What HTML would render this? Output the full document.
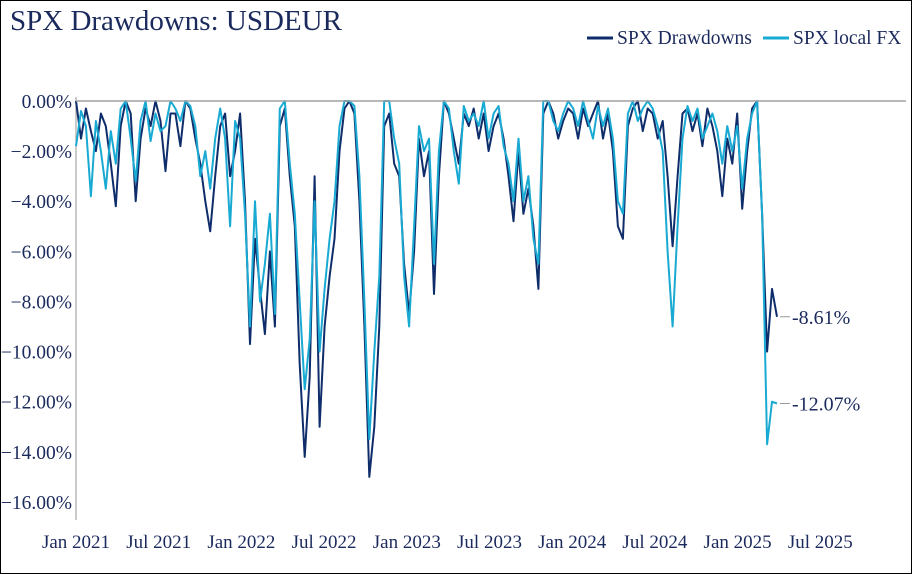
<!DOCTYPE html>
<html><head><meta charset="utf-8"><style>
html,body{margin:0;padding:0;background:#fff}
#wrap{position:relative;width:910px;height:572px;border:1px solid #000;background:#fff;overflow:hidden}
svg text{font-family:"Liberation Serif",serif;fill:#1b2a5c}
</style></head><body>
<div id="wrap">
<svg id="chart" width="910" height="572">
<text x="9" y="29" font-size="29">SPX Drawdowns: USDEUR</text>
<g>
<line x1="586" y1="37" x2="612" y2="37" stroke="#0f2d6b" stroke-width="3"/>
<text x="616" y="43" font-size="19.5">SPX Drawdowns</text>
<line x1="762" y1="37" x2="788" y2="37" stroke="#19aad3" stroke-width="3"/>
<text x="792" y="43" font-size="19.5">SPX local FX</text>
</g>
<g id="yaxis"></g>
<g id="xaxis"></g>
<g id="series"></g>
<g id="ann"></g>
</svg>
</div>
<script>
const yTicks=[0,-2,-4,-6,-8,-10,-12,-14,-16];
const xTickLabels=["Jan 2021","Jul 2021","Jan 2022","Jul 2022","Jan 2023","Jul 2023","Jan 2024","Jul 2024","Jan 2025","Jul 2025"];
const drawdowns=[0,-1.5,-0.3,-1.2,-2,-0.5,-1,-2.5,-4.2,-1,
0,-0.5,-4,-1.5,-0.3,-1,0,-0.8,-2.8,-0.5,
-0.5,-1.8,0,-0.3,-1.5,-2.5,-4,-5.2,-3,-1,
-0.5,-3,-2,-0.5,-4,-9.7,-5.5,-7.5,-9.3,-6,
-9,-1,-0.3,-3,-5,-10.5,-14.2,-11,-3,-13,
-9,-7,-5.5,-2,-0.3,0,-0.5,-4,-9,-15,
-13,-9,-1,-0.5,-2.5,-3,-6.5,-8.5,-6,-1.5,
-3,-2,-7.7,-3,0,-0.5,-1.5,-2.5,-0.5,-1,
-0.3,-1.5,-0.5,-2,-1,-0.5,-1.5,-3,-4.8,-2,
-4.5,-3.5,-5,-7.5,-0.5,0,-0.5,-1.5,-0.8,-0.3,
-0.5,-1.5,-0.3,-1,-0.5,0,-1.5,-0.5,-2,-5,
-5.5,-1,-0.3,0,-1.2,-0.3,-0.5,-1.5,-0.8,-3,
-5.8,-3,-0.5,-0.3,-1.2,-0.5,-1.8,-0.3,-1,-2,
-3.8,-1.5,-2.5,-0.5,-4.3,-2,-0.3,0,-4.5,-10,
-7.5,-8.61];
const localFx=[-1.8,-0.4,-1,-3.8,-0.8,-2,-3.5,-1.2,-2.5,-0.3,
0,-1.5,-3.2,-0.8,0,-1.6,-0.5,-1.2,-1,0,
-0.3,-0.8,0,-0.2,-1,-3,-2,-3.5,-1.5,-0.3,
-1.5,-5,-0.8,-1.5,-4.5,-9,-4,-8,-6.5,-4.5,
-8.5,-0.3,0,-2.5,-4.5,-8,-11.5,-9.5,-4,-10,
-7.5,-5.5,-4,-1,0,0,-0.2,-3,-8,-13.5,
-10,-7,0,0,-1.5,-2.5,-7,-9,-5,-1,
-2,-1.5,-6.5,-2,0,-0.3,-2,-3.3,-0.2,-0.8,
-0.5,-1,0,-1.5,-0.5,-0.2,-1.8,-2.5,-4,-1.5,
-4,-3,-5.5,-6.5,0,0,-0.8,-1.2,-0.5,0,
-0.3,-1,0,-0.8,-1.5,-0.2,-1,-0.3,-1.5,-4,
-4.5,-0.5,0,-0.8,-0.3,0,-0.3,-1,-2,-6,
-9,-5,-1.5,-0.2,-0.8,-0.3,-1.5,-1,-0.5,-1.2,
-2.5,-1,-2,-1,-3.5,-1.5,-0.5,0,-4.5,-13.7,
-12,-12.07];
const NS="http://www.w3.org/2000/svg";
const X0=75,XSTEP=(776-75)/(drawdowns.length-1);
const xIdx=i=>X0+i*XSTEP;
const y=v=>100-v*25.06;
const xTick=k=>75+k*82.7;
function mk(tag,attrs,parent){const e=document.createElementNS(NS,tag);for(const k in attrs)e.setAttribute(k,attrs[k]);parent.appendChild(e);return e;}
const ya=document.getElementById('yaxis'),xa=document.getElementById('xaxis'),sg=document.getElementById('series'),an=document.getElementById('ann');
let l=mk('line',{x1:75,y1:96,x2:75,y2:519,stroke:'#a6a6a6','stroke-width':1.2},ya);


yTicks.forEach(v=>{const t=mk('text',{x:71,y:y(v)+7,'font-size':19.5,'text-anchor':'end'},ya);t.textContent=(v<0?'−':'')+Math.abs(v).toFixed(2)+'%';

});
xTickLabels.forEach((s,k)=>{const t=mk('text',{x:xTick(k),y:547,'font-size':19,'text-anchor':'middle'},xa);t.textContent=s;

});
const pts=a=>a.map((v,i)=>xIdx(i).toFixed(1)+','+y(v).toFixed(1)).join(' ');
let p1=mk('polyline',{points:pts(drawdowns),fill:'none',stroke:'#0f2d6b','stroke-width':2,'stroke-linejoin':'round'},sg);


let p2=mk('polyline',{points:pts(localFx),fill:'none',stroke:'#19aad3','stroke-width':2,'stroke-linejoin':'round'},sg);


let z=mk('line',{x1:75,y1:y(0),x2:905,y2:y(0),stroke:'#a0a0a0','stroke-width':1.5},sg);


function annot(v,name){const n=drawdowns.length-1,xe=xIdx(n)+3,yy=y(v);
const a=mk('line',{x1:xe,y1:yy,x2:xe+10,y2:yy,stroke:'#999','stroke-width':1},an);


const t=mk('text',{x:xe+12,y:yy+7,'font-size':20},an);t.textContent=v.toFixed(2)+'%';

}
annot(drawdowns[drawdowns.length-1],'drawdowns-last-value');
annot(localFx[localFx.length-1],'local-fx-last-value');
</script>
</body></html>
